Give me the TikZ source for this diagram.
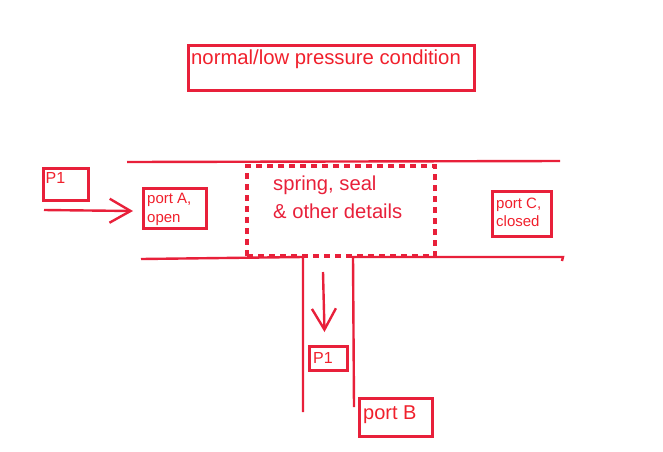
\documentclass[tikz,border=0pt]{standalone}
\usepackage{fontspec}
\setmainfont{Liberation Sans}
\usetikzlibrary{arrows.meta}
\definecolor{pen}{HTML}{E8203A}
\definecolor{ink}{HTML}{F0202C}
\tikzset{
  x=1pt,y=-1pt,
  wall/.style={draw=pen,line width=2.4pt,line cap=butt},
  flow/.style={draw=pen,line width=2.4pt,-{Straight Barb[length=21pt,width=24pt,line width=2.4pt]}},
  frame/.style={draw=pen,line width=3pt,inner sep=0pt,anchor=north west},
  dotted frame/.style={draw=pen,line width=4pt,dash pattern=on 6pt off 5pt},
  lab/.style={text=ink,inner sep=0pt,anchor=north west,align=left},
}
\begin{document}
\begin{tikzpicture}
\useasboundingbox (0,0) rectangle (663,451);
% frames
\node[frame,minimum width=286pt,minimum height=45pt] (title) at (187,44) {};
\node[frame,minimum width=45pt,minimum height=32pt] (p1a) at (41.5,167) {};
\node[frame,minimum width=63pt,minimum height=40pt] (portA) at (142,187) {};
\node[frame,minimum width=59pt,minimum height=45pt] (portC) at (491,190) {};
\node[frame,minimum width=38pt,minimum height=24pt] (p1b) at (308,345) {};
\node[frame,minimum width=73pt,minimum height=38pt] (portB) at (358,397) {};
\node[dotted frame,minimum width=188pt,minimum height=90pt,inner sep=0pt,anchor=north west] (core) at (245,164) {};
% walls
\coordinate (topL) at (127,162);
\coordinate (topR) at (560,161);
\coordinate (botL) at (141,259);
\coordinate (botJ1) at (303,257);
\coordinate (botJ2) at (353,257);
\coordinate (botR) at (563,257);
\coordinate (botRe) at (562,261);
\coordinate (legL) at (303,412);
\coordinate (legR) at (354,407);
\draw[wall] (topL) -- (topR);
\draw[wall] (botL) -- (botJ1) -- (legL);
\draw[wall] (legR) -- (botJ2) -- (botR) -- (botRe);
% flow arrows
\coordinate (inS) at (44,210);
\coordinate (inE) at (133,211);
\coordinate (dnS) at (323,272);
\coordinate (dnE) at (324.5,332);
\draw[flow] (inS) -- (inE);
\draw[flow] (dnS) -- (dnE);
% texts
\node[lab,font=\fontsize{20.3}{24}\selectfont] (t0) at (191,50) {normal/low pressure condition};
\node[lab,font=\fontsize{16}{19}\selectfont] (t1) at (45.5,172) {P1};
\node[lab,font=\fontsize{15}{18.5}\selectfont] (t2) at (147,193) {port A,\\open};
\node[lab,font=\fontsize{15}{18}\selectfont] (t3) at (496,198) {port C,\\closed};
\node[lab,font=\fontsize{16}{19}\selectfont] (t4) at (313,352) {P1};
\node[lab,font=\fontsize{20}{24}\selectfont] (t5) at (363,406) {port B};
\node[lab,text=pen,font=\fontsize{20.2}{28}\selectfont] (t6) at (273,176) {spring, seal\\\& other details};
\end{tikzpicture}
\end{document}
